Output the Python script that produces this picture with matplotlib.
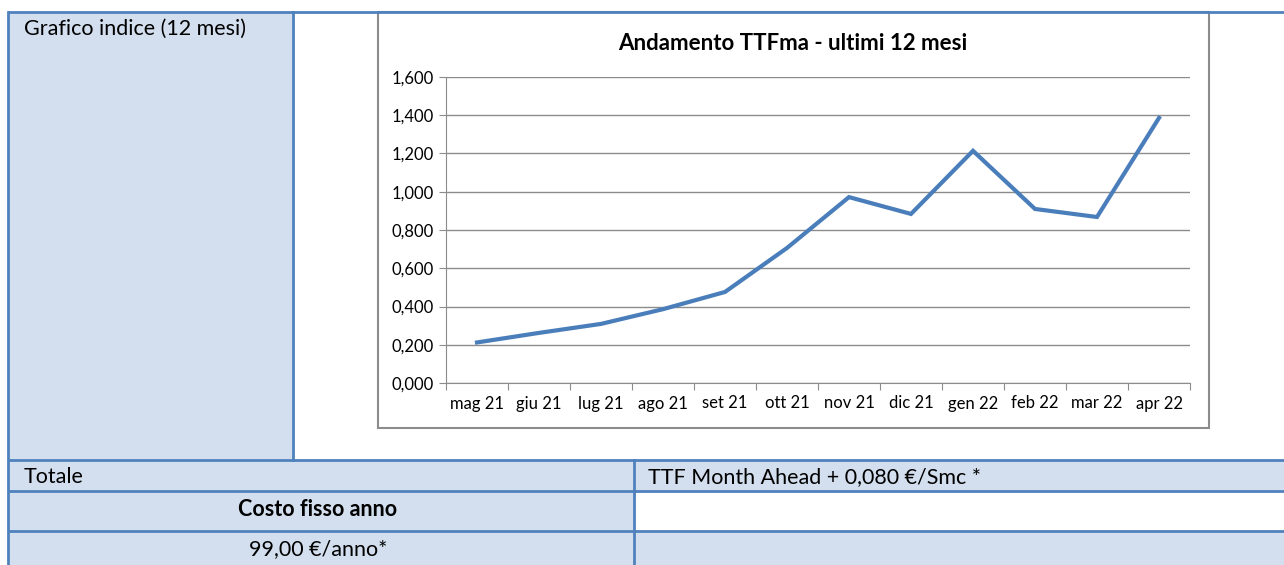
import matplotlib
matplotlib.use('Agg')
import matplotlib.pyplot as plt
from matplotlib.patches import Rectangle
from matplotlib.ticker import FuncFormatter, MultipleLocator, FixedLocator

plt.rcParams['font.family'] = ['Lato', 'DejaVu Sans']

months = ['mag 21', 'giu 21', 'lug 21', 'ago 21', 'set 21', 'ott 21',
          'nov 21', 'dic 21', 'gen 22', 'feb 22', 'mar 22', 'apr 22']
ttf = [0.212, 0.262, 0.309, 0.386, 0.476, 0.706,
       0.972, 0.884, 1.214, 0.910, 0.868, 1.386]

title = 'Andamento TTFma - ultimi 12 mesi'
row_labels = ['Grafico indice (12 mesi)', 'Totale', 'Costo fisso anno', '99,00 €/anno*']
formula = 'TTF Month Ahead + 0,080 €/Smc *'

W, H = 1284, 565
blue = '#4f81bd'
fill = '#d3dfee'
fs = 15.5

fig = plt.figure(figsize=(W / 100, H / 100), dpi=100)

# background layer in pixel coordinates for the table
bg = fig.add_axes([0, 0, 1, 1])
bg.set_xlim(0, W)
bg.set_ylim(H, 0)
bg.axis('off')

# cell fills
bg.add_patch(Rectangle((8, 12), 285, 448, fc=fill, ec='none'))
bg.add_patch(Rectangle((8, 460), W, 31, fc=fill, ec='none'))
bg.add_patch(Rectangle((8, 491), 626, 40, fc=fill, ec='none'))
bg.add_patch(Rectangle((8, 531), W, 40, fc=fill, ec='none'))

# chart frame
bg.add_patch(Rectangle((378, 12), 831, 416, fc='white', ec='#8c8c8c', lw=1.5))

# table borders
lw = 2
for y in [12, 460, 491, 531]:
    bg.plot([8, W], [y, y], color=blue, lw=lw, solid_capstyle='butt')
bg.plot([8, 8], [12, H], color=blue, lw=lw)
bg.plot([293, 293], [12, 460], color=blue, lw=lw)
bg.plot([634, 634], [460, H], color=blue, lw=lw)

bg.text(24, 29, row_labels[0], fontsize=fs, va='center', ha='left')
bg.text(24, 477, row_labels[1], fontsize=fs, va='center', ha='left')
bg.text(318, 509, row_labels[2], fontsize=fs, va='center', ha='center', fontweight='bold')
bg.text(318, 549, row_labels[3], fontsize=fs, va='center', ha='center')
bg.text(648, 477, formula, fontsize=fs, va='center', ha='left')
bg.text(793, 43, title, fontsize=16, va='center', ha='center', fontweight='bold')

# chart
ax = fig.add_axes([446 / W, (H - 383) / H, 744 / W, 306 / H])
x = list(range(len(months)))
ax.plot(x, ttf, color='#4a7ebb', lw=3, solid_joinstyle='miter')
ax.set_xlim(-0.5, len(months) - 0.5)
ax.set_ylim(0, 1.6)
ax.yaxis.set_major_locator(MultipleLocator(0.2))
ax.yaxis.set_major_formatter(FuncFormatter(lambda v, p: f'{v:.3f}'.replace('.', ',')))
ax.grid(axis='y', color='#8c8c8c', lw=1)
ax.set_axisbelow(True)
for s in ['top', 'right']:
    ax.spines[s].set_visible(False)
for s in ['left', 'bottom']:
    ax.spines[s].set_color('#8c8c8c')
ax.xaxis.set_major_locator(FixedLocator([i - 0.5 for i in range(len(months) + 1)]))
ax.xaxis.set_major_formatter(FuncFormatter(lambda v, p: ''))
ax.set_xticks(x, minor=True)
ax.set_xticklabels(months, minor=True)
ax.tick_params(axis='x', which='major', length=5, color='#8c8c8c', direction='out')
ax.tick_params(axis='x', which='minor', length=0, labelsize=12, pad=9)
ax.tick_params(axis='y', length=5, color='#8c8c8c', labelsize=12, pad=4)

fig.savefig('out.png', dpi=100)
